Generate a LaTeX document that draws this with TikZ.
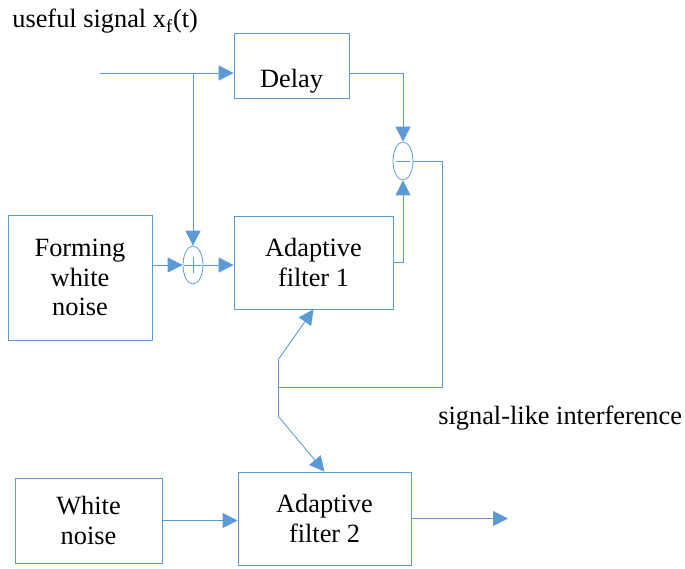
\documentclass[tikz,border=0pt]{standalone}
\usepackage{fontspec}
\setmainfont{Liberation Serif}
\usetikzlibrary{shapes,arrows.meta}
\definecolor{lineblue}{HTML}{5B9BD5}

\begin{document}
\begin{tikzpicture} [x=0.02cm, y=-0.02cm, font=\fontsize{15pt}{17pt}\selectfont,
  block/.style={rectangle, draw=lineblue, line width=0.45pt, text badly centered, align=center},
  junction/.style={ellipse, draw=lineblue, line width=0.45pt, minimum width=0.4cm, minimum height=0.76cm, inner sep=0pt},
  link/.style={draw=lineblue, line width=0.5pt, -{Triangle[length=0.3cm, width=0.3cm]}},
  wire/.style={draw=lineblue, line width=0.5pt}]
  \useasboundingbox (0,0) rectangle (685,568);
  % Blocks
  \node [block, minimum width=2.3cm, minimum height=1.3cm, text height=0.88cm, text depth=0pt] (delay) at (291.5,65.5) {Delay};
  \node [block, minimum width=2.88cm, minimum height=2.5cm] (forming) at (80,277.5) {Forming\\white\\noise};
  \node [block, minimum width=3.18cm, minimum height=1.86cm] (filter1) at (313.5,262.5) {Adaptive\\filter 1};
  \node [block, minimum width=2.94cm, minimum height=1.7cm] (white) at (88.5,520.5) {White\\noise};
  \node [block, minimum width=3.46cm, minimum height=1.86cm] (filter2) at (324.5,518.5) {Adaptive\\filter 2};
  \node [junction] (sum) at (193,265) {};
  \node [junction] (sub) at (403,161) {};
  \draw [lineblue, line width=0.45pt] ([xshift=-0.18cm]sum.center) -- ([xshift=0.18cm]sum.center)
    ([yshift=-0.16cm]sum.center) -- ([yshift=0.16cm]sum.center);
  \draw [lineblue, line width=0.45pt] ([xshift=-0.14cm]sub.center) -- ([xshift=0.14cm]sub.center);
  % Labels
  \node [anchor=base west, inner sep=0pt] (useful) at (12,28) {useful signal x\textsubscript{f}(t)};
  \node [anchor=base west, inner sep=0pt] (interf) at (438,424) {signal-like interference};
  % Free ends
  \coordinate (in) at (100,73);
  \coordinate (turn) at (442,387);
  \coordinate (fork) at (278,387);
  \coordinate (ftop) at (278,360);
  \coordinate (fbot) at (278,416);
  \coordinate (out) at (508,518.5);
  % Draw edges
  \draw [link] (in) -- (in -| delay.west);
  \draw [link] (in -| sum) -- (sum.north);
  \draw [link] (forming.east |- sum) -- (sum.west);
  \draw [link] (sum.east) -- (filter1.west |- sum);
  \draw [link] (in -| delay.east) -| (sub.north);
  \draw [link] (filter1.east) -| (sub.south);
  \draw [wire] (sub.east) -| (turn) -- (fork);
  \draw [wire] (ftop) -- (fbot);
  \draw [link] (ftop) -- (filter1.south);
  \draw [link] (fbot) -- (filter2.north);
  \draw [link] (white.east) -- (filter2.west |- white.east);
  \draw [link] (filter2.east) -- (out);
\end{tikzpicture}
\end{document}
